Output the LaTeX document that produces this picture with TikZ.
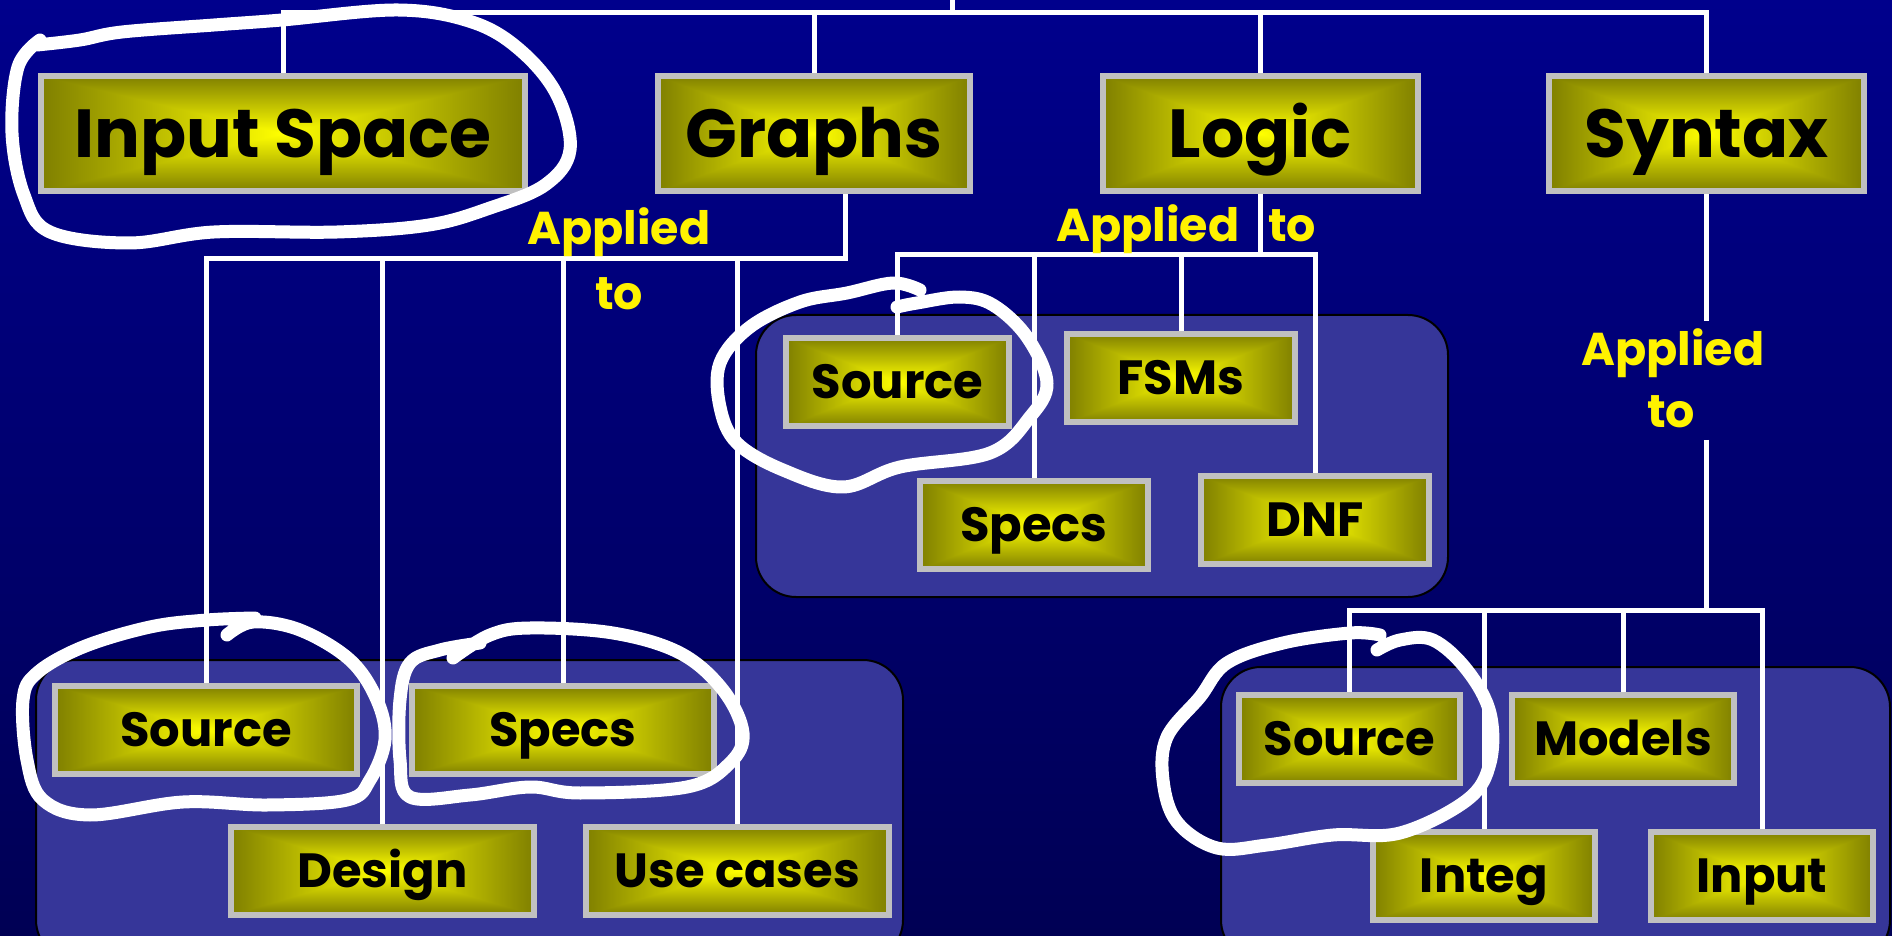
\documentclass[tikz,border=0pt]{standalone}
\usepackage{fontspec}
\setmainfont{Poppins}
\pgfdeclarelayer{back}
\pgfdeclarelayer{mid}
\pgfsetlayers{back,mid,main}
\pgfdeclarefunctionalshading{rectglow}{\pgfpoint{-50bp}{-50bp}}{\pgfpoint{50bp}{50bp}}{}{abs exch abs 2 copy sub abs add add 50 div 0.5 mul 1 exch sub dup 0}
\definecolor{bgtop}{RGB}{0,0,140}
\definecolor{bgbot}{RGB}{0,0,84}
\definecolor{panelfill}{RGB}{54,54,153}
\definecolor{boxgray}{RGB}{192,192,192}
\begin{document}
\begin{tikzpicture}[x=0.5pt,y=-0.5pt,
  box/.style={draw=boxgray, line width=3pt, shade, shading=rectglow, text=black,
    inner sep=0pt, outer sep=0pt, text height=21pt, text depth=4.5pt,
    font=\bfseries\fontsize{24}{24}\selectfont, minimum height=44pt},
  topbox/.style={box, font=\bfseries\fontsize{34}{34}\selectfont, minimum height=57.5pt,
    text height=30pt, text depth=6pt},
  panel/.style={fill=panelfill, draw=black, line width=1pt, rounded corners=20pt},
  wire/.style={draw=white, line width=2.5pt},
  applied/.style={text=yellow, font=\bfseries\fontsize{23}{23}\selectfont, inner sep=0pt, anchor=base},
  scribble/.style={draw=white, line width=6.5pt, line cap=round, line join=round}]
\useasboundingbox (0,0) rectangle (1892,936);
\begin{pgfonlayer}{back}
  \shade[top color=bgtop, bottom color=bgbot] (0,0) rectangle (1892,936);
  \path[panel] (36,660) rectangle (903,960);
  \path[panel] (756,315) rectangle (1448,597);
  \path[panel] (1221,667) rectangle (1890,960);
\end{pgfonlayer}
% top row
\node[topbox, minimum width=242pt] (inputspace) at (283,133.5) {Input Space};
\node[topbox, minimum width=156pt] (graphs) at (814,133.5) {Graphs};
\node[topbox, minimum width=157.5pt] (logic) at (1260.5,133.5) {Logic};
\node[topbox, minimum width=157.5pt] (syntax) at (1706.5,133.5) {Syntax};
% graphs children
\node[box, minimum width=151pt] (srcA) at (206,730) {Source};
\node[box, minimum width=151pt] (specsA) at (563,730) {Specs};
\node[box, minimum width=151.5pt] (design) at (382.5,870.5) {Design};
\node[box, minimum width=151.5pt] (usecases) at (737.5,870.5) {Use cases};
% logic children
\node[box, minimum width=111.5pt] (srcB) at (897.5,382) {Source};
\node[box, minimum width=114pt] (fsms) at (1181,378) {FSMs};
\node[box, minimum width=114pt] (specsB) at (1034,524.5) {Specs};
\node[box, minimum width=114pt] (dnf) at (1315,520) {DNF};
% syntax children
\node[box, minimum width=110.5pt] (srcC) at (1349.5,739) {Source};
\node[box, minimum width=111pt] (models) at (1623,739) {Models};
\node[box, minimum width=111pt] (integ) at (1484,876) {Integ};
\node[box, minimum width=111pt] (input) at (1762,876) {Input};
% labels
\node[applied] (ap1) at (619,245) {Applied};
\node[applied] (to1) at (619,310) {to};
\node[applied] (ap2) at (1148,242) {Applied};
\node[applied] (to2) at (1292,242) {to};
\node[applied] (ap3) at (1673,366) {Applied};
\node[applied] (to3) at (1671,428) {to};
% connectors
\coordinate (tp) at (952,0);
\coordinate (tb) at (952,13);
\coordinate (gj) at (845,259);
\coordinate (lj) at (1260.5,255);
\coordinate (sj) at (1706.5,610);
\begin{pgfonlayer}{mid}
  \draw[wire] (tp) -- (tb);
  \draw[wire] (inputspace.north) |- (tb) -| (syntax.north);
  \draw[wire] (graphs.north) -- (graphs.north |- tb);
  \draw[wire] (logic.north) -- (logic.north |- tb);
  \draw[wire] (gj |- graphs.south) -- (gj) -| (srcA.north);
  \draw[wire] (gj) -| (design.north);
  \draw[wire] (gj) -| (specsA.north);
  \draw[wire] (gj) -| (usecases.north);
  \draw[wire] (logic.south) -- (lj) -| (srcB.north);
  \draw[wire] (lj) -| (specsB.north);
  \draw[wire] (lj) -| (fsms.north);
  \draw[wire] (lj) -| (dnf.north);
  \draw[wire] (syntax.south) -- ([yshift=4pt]syntax.south |- ap3.north);
  \draw[wire] ([yshift=-6pt]syntax.south |- to3.base) -- (sj) -| (srcC.north);
  \draw[wire] (sj) -| (integ.north);
  \draw[wire] (sj) -| (models.north);
  \draw[wire] (sj) -| (input.north);
\end{pgfonlayer}
% hand-drawn marks
\draw[scribble] plot[smooth, tension=0.6] coordinates {(37,45) (80,40) (122,32) (214,25) (282,20) (398,10) (472,22) (520,50) (557,95) (570,150) (545,185) (490,208) (429,225) (337,232) (214,232) (129,243) (50,232) (24,195) (12,133) (18,67) (40,40)};
\draw[scribble] plot[smooth, tension=0.6] coordinates {(897,307) (917,303) (960,297) (993,305) (1027,337) (1047,383) (1030,417) (990,453) (900,467) (843,487) (783,470) (737,443) (720,407) (720,363) (750,327) (800,302) (847,293) (893,283) (920,290)};
\draw[scribble] plot[smooth, tension=0.6] coordinates {(227,635) (253,622) (300,630) (350,660) (377,700) (385,740) (370,780) (347,800) (267,805) (183,802) (90,815) (43,800) (27,760) (23,700) (37,673) (83,647) (150,627) (207,620) (255,618)};
\draw[scribble] plot[smooth, tension=0.6] coordinates {(453,658) (490,635) (530,628) (613,633) (680,653) (723,690) (743,733) (730,763) (687,787) (580,793) (530,787) (470,795) (410,797) (400,760) (400,700) (410,663) (440,650) (480,643)};
\draw[scribble] plot[smooth, tension=0.6] coordinates {(1377,650) (1400,640) (1433,640) (1467,670) (1490,713) (1490,763) (1467,800) (1400,833) (1333,835) (1267,845) (1217,848) (1177,822) (1163,780) (1167,737) (1200,697) (1227,663) (1283,643) (1350,633) (1380,635)};
\end{tikzpicture}
\end{document}
